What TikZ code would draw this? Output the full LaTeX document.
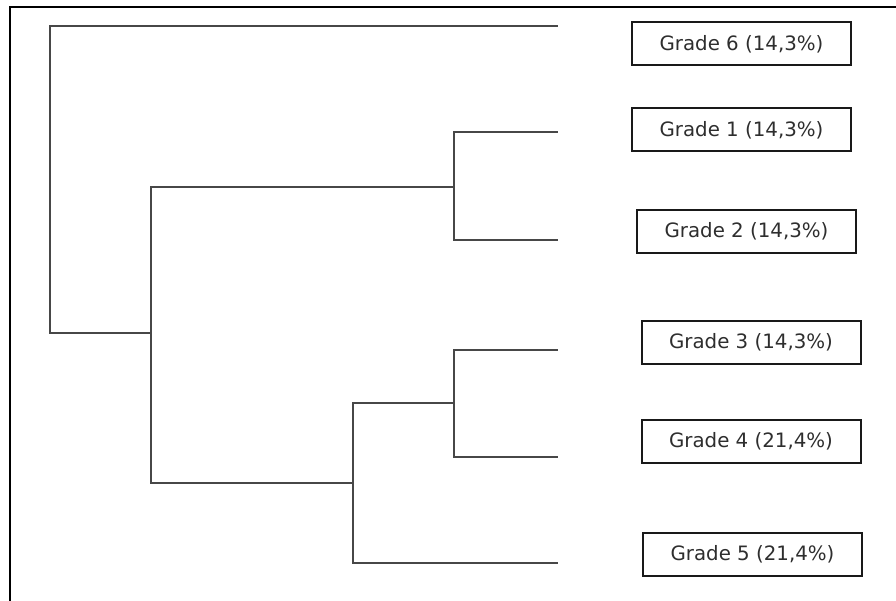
\documentclass[tikz,border=0pt]{standalone}
\usepackage{fontspec}
\setmainfont{DejaVu Sans}
\usepackage{tikz}
\usetikzlibrary{positioning,calc}
\usepackage{xcolor}
\colorlet{branchcol}{black!72}
\colorlet{boxcol}{black!90}

\begin{document}
\begin{tikzpicture}[x=1pt, y=-1pt, line width=2pt, font=\fontsize{19.8}{23}\selectfont]
\tikzstyle{grade}=[draw=boxcol, line width=2pt, minimum width=219pt, minimum height=43pt, inner sep=0pt, text=black!82]
\tikzstyle{branch}=[draw=branchcol, line width=2pt, line cap=rect]
\useasboundingbox (0,0) rectangle (896,601);
% frame
\draw[black, line width=2pt] (10,601) -- (10,7) -- (896,7);
% joints and leaf ends
\coordinate (root) at (50,333);
\coordinate (nA) at (151,333);
\coordinate (nB) at (454,187);
\coordinate (nC) at (353,483);
\coordinate (nD) at (454,403);
\coordinate (l6) at (557,26);
\coordinate (l1) at (557,132);
\coordinate (l2) at (557,240);
\coordinate (l3) at (557,350);
\coordinate (l4) at (557,457);
\coordinate (l5) at (557,563);
% labels
\node[grade] (g6) at (741.5,44) {Grade 6 (14,3\%)};
\node[grade] (g1) at (741.5,130) {Grade 1 (14,3\%)};
\node[grade] (g2) at (746.5,231.5) {Grade 2 (14,3\%)};
\node[grade] (g3) at (751,342.5) {Grade 3 (14,3\%)};
\node[grade] (g4) at (751,441) {Grade 4 (21,4\%)};
\node[grade] (g5) at (752.5,554.5) {Grade 5 (21,4\%)};
% tree
\draw[branch] (l6) -| (root) -- (nA);
\draw[branch] (nB) |- (l1);
\draw[branch] (nB) |- (l2);
\draw[branch] (nB) -| (nA) |- (nC);
\draw[branch] (nD) -| (nC) |- (l5);
\draw[branch] (nD) |- (l3);
\draw[branch] (nD) |- (l4);
\end{tikzpicture}
\end{document}
